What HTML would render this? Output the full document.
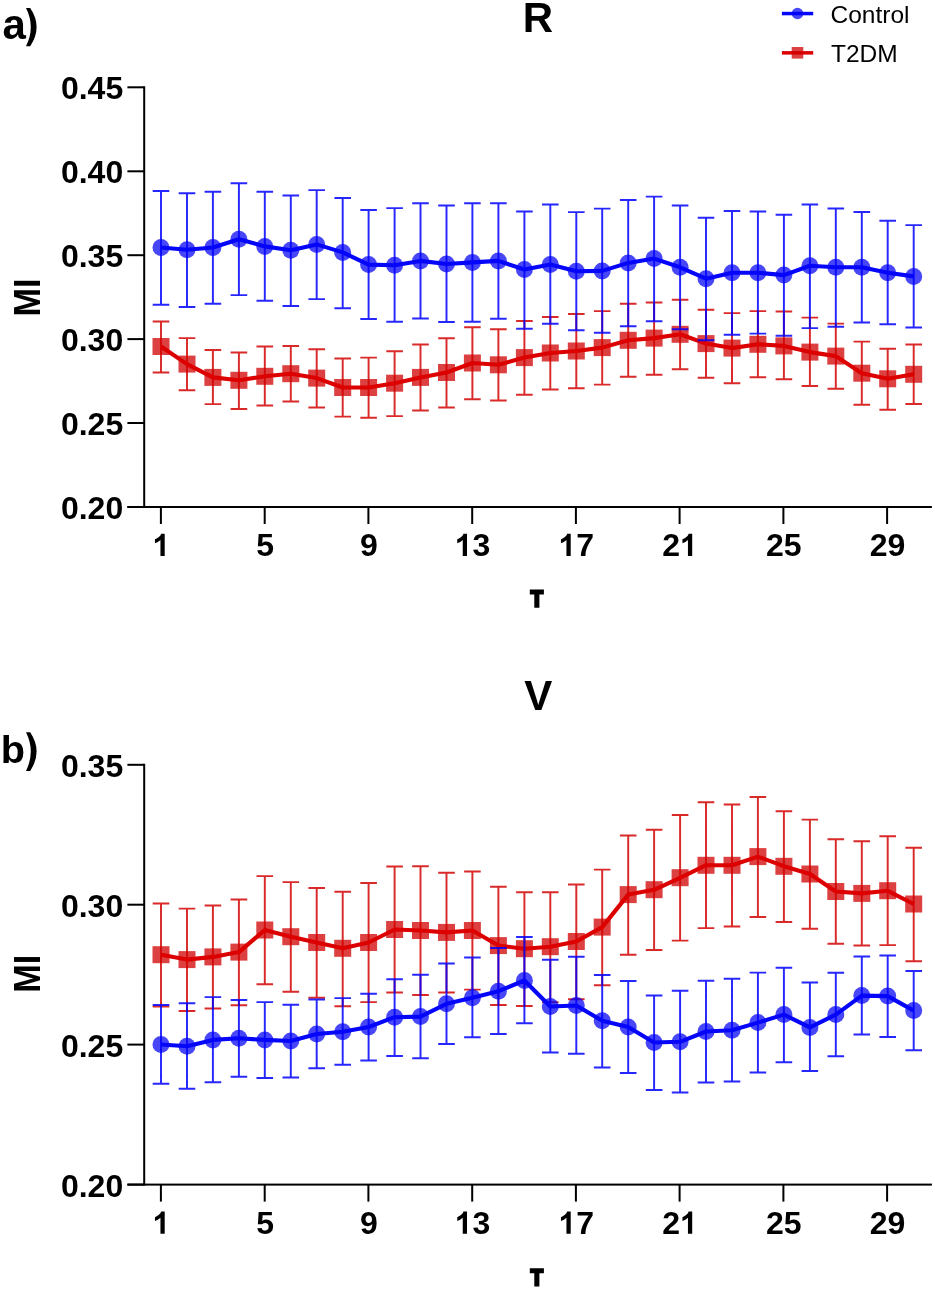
<!DOCTYPE html>
<html><head><meta charset="utf-8"><title>MI vs tau</title>
<style>
html,body{margin:0;padding:0;background:#fff;}
body{width:935px;height:1289px;overflow:hidden;}
svg{display:block;will-change:transform;}
text{font-family:"Liberation Sans",sans-serif;fill:#000;}
.tk{font-size:32px;font-weight:bold;}
.pl{font-size:42px;font-weight:bold;}
.yl{font-size:34.2px;font-weight:bold;}
.lg{font-size:24.5px;}
</style></head><body>
<svg width="935" height="1289" viewBox="0 0 935 1289">
<rect width="935" height="1289" fill="#fff"/>
<g id="top">
<rect x="143.2" y="86.3" width="2" height="421.7" fill="#000"/>
<rect x="127.4" y="506" width="804.5" height="2" fill="#000"/>
<rect x="127.4" y="86.3" width="16.8" height="2" fill="#000"/>
<text x="123.2" y="99.3" text-anchor="end" class="tk">0.45</text>
<rect x="127.4" y="170.3" width="16.8" height="2" fill="#000"/>
<text x="123.2" y="183.3" text-anchor="end" class="tk">0.40</text>
<rect x="127.4" y="254.2" width="16.8" height="2" fill="#000"/>
<text x="123.2" y="267.2" text-anchor="end" class="tk">0.35</text>
<rect x="127.4" y="338.1" width="16.8" height="2" fill="#000"/>
<text x="123.2" y="351.1" text-anchor="end" class="tk">0.30</text>
<rect x="127.4" y="422" width="16.8" height="2" fill="#000"/>
<text x="123.2" y="435" text-anchor="end" class="tk">0.25</text>
<rect x="127.4" y="506" width="16.8" height="2" fill="#000"/>
<text x="123.2" y="519" text-anchor="end" class="tk">0.20</text>
<rect x="159.9" y="507" width="2" height="17" fill="#000"/>
<path transform="translate(152.5 556) scale(0.015137 -0.015137)" d="M806 0H525V1059Q371 915 162 846V1101Q272 1137 401 1237.5T578 1472H806Z" fill="#000"/>
<rect x="263.7" y="507" width="2" height="17" fill="#000"/>
<text x="256.2" y="556" class="tk">5</text>
<rect x="367.4" y="507" width="2" height="17" fill="#000"/>
<text x="359.9" y="556" class="tk">9</text>
<rect x="471.2" y="507" width="2" height="17" fill="#000"/>
<path transform="translate(454.8 556) scale(0.015137 -0.015137)" d="M806 0H525V1059Q371 915 162 846V1101Q272 1137 401 1237.5T578 1472H806Z" fill="#000"/><text x="472.6" y="556" class="tk">3</text>
<rect x="574.9" y="507" width="2" height="17" fill="#000"/>
<path transform="translate(558.5 556) scale(0.015137 -0.015137)" d="M806 0H525V1059Q371 915 162 846V1101Q272 1137 401 1237.5T578 1472H806Z" fill="#000"/><text x="576.3" y="556" class="tk">7</text>
<rect x="678.6" y="507" width="2" height="17" fill="#000"/>
<text x="662.2" y="556" class="tk">2</text><path transform="translate(680 556) scale(0.015137 -0.015137)" d="M806 0H525V1059Q371 915 162 846V1101Q272 1137 401 1237.5T578 1472H806Z" fill="#000"/>
<rect x="782.4" y="507" width="2" height="17" fill="#000"/>
<text x="766" y="556" class="tk">2</text><text x="783.8" y="556" class="tk">5</text>
<rect x="886.1" y="507" width="2" height="17" fill="#000"/>
<text x="869.7" y="556" class="tk">2</text><text x="887.5" y="556" class="tk">9</text>
<path d="M529.8 589.5 h14.1 v5.1 h-4.5 v13.2 h-5.1 v-13.2 h-4.5z" fill="#000"/>
<rect x="152.5" y="338" width="17" height="17" fill="rgba(208,0,0,0.75)"/>
<rect x="178.5" y="355.6" width="17" height="17" fill="rgba(208,0,0,0.75)"/>
<rect x="204.4" y="368.9" width="17" height="17" fill="rgba(208,0,0,0.75)"/>
<rect x="230.4" y="371.8" width="17" height="17" fill="rgba(208,0,0,0.75)"/>
<rect x="256.3" y="367.8" width="17" height="17" fill="rgba(208,0,0,0.75)"/>
<rect x="282.3" y="365.2" width="17" height="17" fill="rgba(208,0,0,0.75)"/>
<rect x="308.2" y="369.6" width="17" height="17" fill="rgba(208,0,0,0.75)"/>
<rect x="334.2" y="379" width="17" height="17" fill="rgba(208,0,0,0.75)"/>
<rect x="360.1" y="379" width="17" height="17" fill="rgba(208,0,0,0.75)"/>
<rect x="386.1" y="374.7" width="17" height="17" fill="rgba(208,0,0,0.75)"/>
<rect x="412" y="368.9" width="17" height="17" fill="rgba(208,0,0,0.75)"/>
<rect x="438" y="364" width="17" height="17" fill="rgba(208,0,0,0.75)"/>
<rect x="463.9" y="354.5" width="17" height="17" fill="rgba(208,0,0,0.75)"/>
<rect x="489.9" y="356.3" width="17" height="17" fill="rgba(208,0,0,0.75)"/>
<rect x="515.9" y="349.1" width="17" height="17" fill="rgba(208,0,0,0.75)"/>
<rect x="541.8" y="344.5" width="17" height="17" fill="rgba(208,0,0,0.75)"/>
<rect x="567.8" y="342.5" width="17" height="17" fill="rgba(208,0,0,0.75)"/>
<rect x="593.7" y="339.1" width="17" height="17" fill="rgba(208,0,0,0.75)"/>
<rect x="619.7" y="331.8" width="17" height="17" fill="rgba(208,0,0,0.75)"/>
<rect x="645.6" y="329.6" width="17" height="17" fill="rgba(208,0,0,0.75)"/>
<rect x="671.6" y="325.8" width="17" height="17" fill="rgba(208,0,0,0.75)"/>
<rect x="697.5" y="335.1" width="17" height="17" fill="rgba(208,0,0,0.75)"/>
<rect x="723.5" y="339.6" width="17" height="17" fill="rgba(208,0,0,0.75)"/>
<rect x="749.4" y="335.8" width="17" height="17" fill="rgba(208,0,0,0.75)"/>
<rect x="775.4" y="337.4" width="17" height="17" fill="rgba(208,0,0,0.75)"/>
<rect x="801.4" y="343.6" width="17" height="17" fill="rgba(208,0,0,0.75)"/>
<rect x="827.3" y="347.6" width="17" height="17" fill="rgba(208,0,0,0.75)"/>
<rect x="853.3" y="364.7" width="17" height="17" fill="rgba(208,0,0,0.75)"/>
<rect x="879.2" y="370.3" width="17" height="17" fill="rgba(208,0,0,0.75)"/>
<rect x="905.2" y="365.8" width="17" height="17" fill="rgba(208,0,0,0.75)"/>
<path d="M161 321.4V372.5M152.7 321.4H169.3M152.7 372.5H169.3M187 338.1V390.3M178.7 338.1H195.3M178.7 390.3H195.3M212.9 349.9V404.1M204.6 349.9H221.2M204.6 404.1H221.2M238.9 352.5V409M230.6 352.5H247.2M230.6 409H247.2M264.8 346.5V405.5M256.5 346.5H273.1M256.5 405.5H273.1M290.8 345.9V401.5M282.5 345.9H299.1M282.5 401.5H299.1M316.7 349.2V407.5M308.4 349.2H325M308.4 407.5H325M342.7 358.5V416.6M334.4 358.5H351M334.4 416.6H351M368.6 357.6V417.7M360.3 357.6H376.9M360.3 417.7H376.9M394.6 351.2V416.1M386.3 351.2H402.9M386.3 416.1H402.9M420.5 344.5V410.4M412.2 344.5H428.8M412.2 410.4H428.8M446.5 338.3V407.5M438.2 338.3H454.8M438.2 407.5H454.8M472.4 327.2V399.2M464.1 327.2H480.7M464.1 399.2H480.7M498.4 329.2V400.4M490.1 329.2H506.7M490.1 400.4H506.7M524.4 320.9V394.8M516.1 320.9H532.7M516.1 394.8H532.7M550.3 316.9V389.5M542 316.9H558.6M542 389.5H558.6M576.3 314V388.3M568 314H584.6M568 388.3H584.6M602.2 311.1V384.6M593.9 311.1H610.5M593.9 384.6H610.5M628.2 303.8V376.8M619.9 303.8H636.5M619.9 376.8H636.5M654.1 302.5V374.8M645.8 302.5H662.4M645.8 374.8H662.4M680.1 299.8V369.2M671.8 299.8H688.4M671.8 369.2H688.4M706 309.8V377.7M697.7 309.8H714.3M697.7 377.7H714.3M732 313.1V383.2M723.7 313.1H740.3M723.7 383.2H740.3M757.9 311.1V377.2M749.6 311.1H766.2M749.6 377.2H766.2M783.9 311.4V379.2M775.6 311.4H792.2M775.6 379.2H792.2M809.9 317.6V385.9M801.6 317.6H818.1M801.6 385.9H818.1M835.8 323.6V388.8M827.5 323.6H844.1M827.5 388.8H844.1M861.8 341.6V404.8M853.5 341.6H870.1M853.5 404.8H870.1M887.7 348.7V409.7M879.4 348.7H896M879.4 409.7H896M913.7 344.5V403.9M905.4 344.5H922M905.4 403.9H922" fill="none" stroke="rgba(210,0,0,0.84)" stroke-width="1.95"/>
<polyline points="161,346.5 187,364.1 212.9,377.4 238.9,380.3 264.8,376.3 290.8,373.7 316.7,378.1 342.7,387.5 368.6,387.5 394.6,383.2 420.5,377.4 446.5,372.5 472.4,363 498.4,364.8 524.4,357.6 550.3,353 576.3,351 602.2,347.6 628.2,340.3 654.1,338.1 680.1,334.3 706,343.6 732,348.1 757.9,344.3 783.9,345.9 809.9,352.1 835.8,356.1 861.8,373.2 887.7,378.8 913.7,374.3" fill="none" stroke="#dc0000" stroke-width="4.1" stroke-linejoin="round"/>
<circle cx="161" cy="247.5" r="8.5" fill="rgba(0,0,245,0.72)"/>
<circle cx="187" cy="249.7" r="8.5" fill="rgba(0,0,245,0.72)"/>
<circle cx="212.9" cy="247.5" r="8.5" fill="rgba(0,0,245,0.72)"/>
<circle cx="238.9" cy="239.3" r="8.5" fill="rgba(0,0,245,0.72)"/>
<circle cx="264.8" cy="246.4" r="8.5" fill="rgba(0,0,245,0.72)"/>
<circle cx="290.8" cy="250.2" r="8.5" fill="rgba(0,0,245,0.72)"/>
<circle cx="316.7" cy="244.4" r="8.5" fill="rgba(0,0,245,0.72)"/>
<circle cx="342.7" cy="252.4" r="8.5" fill="rgba(0,0,245,0.72)"/>
<circle cx="368.6" cy="264.6" r="8.5" fill="rgba(0,0,245,0.72)"/>
<circle cx="394.6" cy="265.3" r="8.5" fill="rgba(0,0,245,0.72)"/>
<circle cx="420.5" cy="260.9" r="8.5" fill="rgba(0,0,245,0.72)"/>
<circle cx="446.5" cy="264" r="8.5" fill="rgba(0,0,245,0.72)"/>
<circle cx="472.4" cy="262.4" r="8.5" fill="rgba(0,0,245,0.72)"/>
<circle cx="498.4" cy="260.9" r="8.5" fill="rgba(0,0,245,0.72)"/>
<circle cx="524.4" cy="269.5" r="8.5" fill="rgba(0,0,245,0.72)"/>
<circle cx="550.3" cy="264.6" r="8.5" fill="rgba(0,0,245,0.72)"/>
<circle cx="576.3" cy="271.3" r="8.5" fill="rgba(0,0,245,0.72)"/>
<circle cx="602.2" cy="270.9" r="8.5" fill="rgba(0,0,245,0.72)"/>
<circle cx="628.2" cy="262.9" r="8.5" fill="rgba(0,0,245,0.72)"/>
<circle cx="654.1" cy="258.6" r="8.5" fill="rgba(0,0,245,0.72)"/>
<circle cx="680.1" cy="267.3" r="8.5" fill="rgba(0,0,245,0.72)"/>
<circle cx="706" cy="278.7" r="8.5" fill="rgba(0,0,245,0.72)"/>
<circle cx="732" cy="272.7" r="8.5" fill="rgba(0,0,245,0.72)"/>
<circle cx="757.9" cy="272.7" r="8.5" fill="rgba(0,0,245,0.72)"/>
<circle cx="783.9" cy="275.1" r="8.5" fill="rgba(0,0,245,0.72)"/>
<circle cx="809.9" cy="265.8" r="8.5" fill="rgba(0,0,245,0.72)"/>
<circle cx="835.8" cy="267.3" r="8.5" fill="rgba(0,0,245,0.72)"/>
<circle cx="861.8" cy="267.3" r="8.5" fill="rgba(0,0,245,0.72)"/>
<circle cx="887.7" cy="272.7" r="8.5" fill="rgba(0,0,245,0.72)"/>
<circle cx="913.7" cy="276.4" r="8.5" fill="rgba(0,0,245,0.72)"/>
<path d="M161 191V304.7M152.7 191H169.3M152.7 304.7H169.3M187 193.2V306.9M178.7 193.2H195.3M178.7 306.9H195.3M212.9 191.7V303.8M204.6 191.7H221.2M204.6 303.8H221.2M238.9 183.2V295.1M230.6 183.2H247.2M230.6 295.1H247.2M264.8 191.7V300.7M256.5 191.7H273.1M256.5 300.7H273.1M290.8 195.5V306M282.5 195.5H299.1M282.5 306H299.1M316.7 190.1V299.1M308.4 190.1H325M308.4 299.1H325M342.7 197.9V308.3M334.4 197.9H351M334.4 308.3H351M368.6 209.9V318.9M360.3 209.9H376.9M360.3 318.9H376.9M394.6 208.1V321.8M386.3 208.1H402.9M386.3 321.8H402.9M420.5 203.2V318.5M412.2 203.2H428.8M412.2 318.5H428.8M446.5 205.5V322M438.2 205.5H454.8M438.2 322H454.8M472.4 203.2V321.8M464.1 203.2H480.7M464.1 321.8H480.7M498.4 203.2V318.7M490.1 203.2H506.7M490.1 318.7H506.7M524.4 211.5V328.7M516.1 211.5H532.7M516.1 328.7H532.7M550.3 204.4V323.8M542 204.4H558.6M542 323.8H558.6M576.3 212.1V330.3M568 212.1H584.6M568 330.3H584.6M602.2 208.6V332.7M593.9 208.6H610.5M593.9 332.7H610.5M628.2 199.9V326.3M619.9 199.9H636.5M619.9 326.3H636.5M654.1 196.6V321.2M645.8 196.6H662.4M645.8 321.2H662.4M680.1 205.5V329.2M671.8 205.5H688.4M671.8 329.2H688.4M706 217.7V340.3M697.7 217.7H714.3M697.7 340.3H714.3M732 211V334.7M723.7 211H740.3M723.7 334.7H740.3M757.9 211.5V333.6M749.6 211.5H766.2M749.6 333.6H766.2M783.9 214.8V335.8M775.6 214.8H792.2M775.6 335.8H792.2M809.9 204.4V328.1M801.6 204.4H818.1M801.6 328.1H818.1M835.8 208.4V326.7M827.5 208.4H844.1M827.5 326.7H844.1M861.8 211.9V322.5M853.5 211.9H870.1M853.5 322.5H870.1M887.7 220.8V324.3M879.4 220.8H896M879.4 324.3H896M913.7 225.1V327.4M905.4 225.1H922M905.4 327.4H922" fill="none" stroke="rgba(0,0,255,0.85)" stroke-width="1.95"/>
<polyline points="161,247.5 187,249.7 212.9,247.5 238.9,239.3 264.8,246.4 290.8,250.2 316.7,244.4 342.7,252.4 368.6,264.6 394.6,265.3 420.5,260.9 446.5,264 472.4,262.4 498.4,260.9 524.4,269.5 550.3,264.6 576.3,271.3 602.2,270.9 628.2,262.9 654.1,258.6 680.1,267.3 706,278.7 732,272.7 757.9,272.7 783.9,275.1 809.9,265.8 835.8,267.3 861.8,267.3 887.7,272.7 913.7,276.4" fill="none" stroke="#0505fa" stroke-width="4.1" stroke-linejoin="round"/>
</g>
<g id="bot">
<rect x="143.2" y="763.8" width="2" height="421.8" fill="#000"/>
<rect x="127.4" y="1183.6" width="804.5" height="2" fill="#000"/>
<rect x="127.4" y="763.8" width="16.8" height="2" fill="#000"/>
<text x="123.2" y="776.8" text-anchor="end" class="tk">0.35</text>
<rect x="127.4" y="903.7" width="16.8" height="2" fill="#000"/>
<text x="123.2" y="916.7" text-anchor="end" class="tk">0.30</text>
<rect x="127.4" y="1043.6" width="16.8" height="2" fill="#000"/>
<text x="123.2" y="1056.6" text-anchor="end" class="tk">0.25</text>
<rect x="127.4" y="1183.6" width="16.8" height="2" fill="#000"/>
<text x="123.2" y="1196.6" text-anchor="end" class="tk">0.20</text>
<rect x="159.9" y="1184.6" width="2" height="17" fill="#000"/>
<path transform="translate(152.5 1233.8) scale(0.015137 -0.015137)" d="M806 0H525V1059Q371 915 162 846V1101Q272 1137 401 1237.5T578 1472H806Z" fill="#000"/>
<rect x="263.7" y="1184.6" width="2" height="17" fill="#000"/>
<text x="256.2" y="1233.8" class="tk">5</text>
<rect x="367.4" y="1184.6" width="2" height="17" fill="#000"/>
<text x="359.9" y="1233.8" class="tk">9</text>
<rect x="471.2" y="1184.6" width="2" height="17" fill="#000"/>
<path transform="translate(454.8 1233.8) scale(0.015137 -0.015137)" d="M806 0H525V1059Q371 915 162 846V1101Q272 1137 401 1237.5T578 1472H806Z" fill="#000"/><text x="472.6" y="1233.8" class="tk">3</text>
<rect x="574.9" y="1184.6" width="2" height="17" fill="#000"/>
<path transform="translate(558.5 1233.8) scale(0.015137 -0.015137)" d="M806 0H525V1059Q371 915 162 846V1101Q272 1137 401 1237.5T578 1472H806Z" fill="#000"/><text x="576.3" y="1233.8" class="tk">7</text>
<rect x="678.6" y="1184.6" width="2" height="17" fill="#000"/>
<text x="662.2" y="1233.8" class="tk">2</text><path transform="translate(680 1233.8) scale(0.015137 -0.015137)" d="M806 0H525V1059Q371 915 162 846V1101Q272 1137 401 1237.5T578 1472H806Z" fill="#000"/>
<rect x="782.4" y="1184.6" width="2" height="17" fill="#000"/>
<text x="766" y="1233.8" class="tk">2</text><text x="783.8" y="1233.8" class="tk">5</text>
<rect x="886.1" y="1184.6" width="2" height="17" fill="#000"/>
<text x="869.7" y="1233.8" class="tk">2</text><text x="887.5" y="1233.8" class="tk">9</text>
<path d="M529.8 1268.2 h14.1 v5.1 h-4.5 v13.2 h-5.1 v-13.2 h-4.5z" fill="#000"/>
<rect x="152.5" y="946.2" width="17" height="17" fill="rgba(208,0,0,0.75)"/>
<rect x="178.5" y="951.1" width="17" height="17" fill="rgba(208,0,0,0.75)"/>
<rect x="204.4" y="948.4" width="17" height="17" fill="rgba(208,0,0,0.75)"/>
<rect x="230.4" y="943.6" width="17" height="17" fill="rgba(208,0,0,0.75)"/>
<rect x="256.3" y="921.5" width="17" height="17" fill="rgba(208,0,0,0.75)"/>
<rect x="282.3" y="928.2" width="17" height="17" fill="rgba(208,0,0,0.75)"/>
<rect x="308.2" y="934" width="17" height="17" fill="rgba(208,0,0,0.75)"/>
<rect x="334.2" y="939.8" width="17" height="17" fill="rgba(208,0,0,0.75)"/>
<rect x="360.1" y="934" width="17" height="17" fill="rgba(208,0,0,0.75)"/>
<rect x="386.1" y="921" width="17" height="17" fill="rgba(208,0,0,0.75)"/>
<rect x="412" y="922" width="17" height="17" fill="rgba(208,0,0,0.75)"/>
<rect x="438" y="923.9" width="17" height="17" fill="rgba(208,0,0,0.75)"/>
<rect x="463.9" y="922" width="17" height="17" fill="rgba(208,0,0,0.75)"/>
<rect x="489.9" y="937.1" width="17" height="17" fill="rgba(208,0,0,0.75)"/>
<rect x="515.9" y="940.2" width="17" height="17" fill="rgba(208,0,0,0.75)"/>
<rect x="541.8" y="938.2" width="17" height="17" fill="rgba(208,0,0,0.75)"/>
<rect x="567.8" y="933" width="17" height="17" fill="rgba(208,0,0,0.75)"/>
<rect x="593.7" y="918.6" width="17" height="17" fill="rgba(208,0,0,0.75)"/>
<rect x="619.7" y="886.1" width="17" height="17" fill="rgba(208,0,0,0.75)"/>
<rect x="645.6" y="881.2" width="17" height="17" fill="rgba(208,0,0,0.75)"/>
<rect x="671.6" y="869.2" width="17" height="17" fill="rgba(208,0,0,0.75)"/>
<rect x="697.5" y="856.8" width="17" height="17" fill="rgba(208,0,0,0.75)"/>
<rect x="723.5" y="856.8" width="17" height="17" fill="rgba(208,0,0,0.75)"/>
<rect x="749.4" y="848.1" width="17" height="17" fill="rgba(208,0,0,0.75)"/>
<rect x="775.4" y="857.8" width="17" height="17" fill="rgba(208,0,0,0.75)"/>
<rect x="801.4" y="865.5" width="17" height="17" fill="rgba(208,0,0,0.75)"/>
<rect x="827.3" y="883" width="17" height="17" fill="rgba(208,0,0,0.75)"/>
<rect x="853.3" y="884.9" width="17" height="17" fill="rgba(208,0,0,0.75)"/>
<rect x="879.2" y="882.2" width="17" height="17" fill="rgba(208,0,0,0.75)"/>
<rect x="905.2" y="895.5" width="17" height="17" fill="rgba(208,0,0,0.75)"/>
<path d="M161 903.5V1006.5M152.7 903.5H169.3M152.7 1006.5H169.3M187 908.6V1011M178.7 908.6H195.3M178.7 1011H195.3M212.9 905.5V1008.4M204.6 905.5H221.2M204.6 1008.4H221.2M238.9 899.4V1005.2M230.6 899.4H247.2M230.6 1005.2H247.2M264.8 876.1V984.2M256.5 876.1H273.1M256.5 984.2H273.1M290.8 882.1V991.8M282.5 882.1H299.1M282.5 991.8H299.1M316.7 887.9V997.8M308.4 887.9H325M308.4 997.8H325M342.7 891.8V1006.2M334.4 891.8H351M334.4 1006.2H351M368.6 882.9V1002.1M360.3 882.9H376.9M360.3 1002.1H376.9M394.6 866.5V992.5M386.3 866.5H402.9M386.3 992.5H402.9M420.5 866.2V994.9M412.2 866.2H428.8M412.2 994.9H428.8M446.5 872.8V992.5M438.2 872.8H454.8M438.2 992.5H454.8M472.4 871.5V989.6M464.1 871.5H480.7M464.1 989.6H480.7M498.4 886.7V1005M490.1 886.7H506.7M490.1 1005H506.7M524.4 892.2V1006M516.1 892.2H532.7M516.1 1006H532.7M550.3 892.2V1002.1M542 892.2H558.6M542 1002.1H558.6M576.3 884.5V999.2M568 884.5H584.6M568 999.2H584.6M602.2 869.6V985.2M593.9 869.6H610.5M593.9 985.2H610.5M628.2 835.5V954.8M619.9 835.5H636.5M619.9 954.8H636.5M654.1 829.7V950M645.8 829.7H662.4M645.8 950H662.4M680.1 815V940.6M671.8 815H688.4M671.8 940.6H688.4M706 802.2V928.1M697.7 802.2H714.3M697.7 928.1H714.3M732 804.4V926.4M723.7 804.4H740.3M723.7 926.4H740.3M757.9 797V917M749.6 797H766.2M749.6 917H766.2M783.9 811.2V922M775.6 811.2H792.2M775.6 922H792.2M809.9 819.6V928.8M801.6 819.6H818.1M801.6 928.8H818.1M835.8 839.2V943.7M827.5 839.2H844.1M827.5 943.7H844.1M861.8 841.2V945.4M853.5 841.2H870.1M853.5 945.4H870.1M887.7 836.2V945.1M879.4 836.2H896M879.4 945.1H896M913.7 847.7V961.2M905.4 847.7H922M905.4 961.2H922" fill="none" stroke="rgba(210,0,0,0.84)" stroke-width="1.95"/>
<polyline points="161,954.8 187,959.6 212.9,956.9 238.9,952.1 264.8,930 290.8,936.7 316.7,942.5 342.7,948.2 368.6,942.5 394.6,929.5 420.5,930.5 446.5,932.4 472.4,930.5 498.4,945.6 524.4,948.7 550.3,946.8 576.3,941.5 602.2,927.1 628.2,894.6 654.1,889.8 680.1,877.8 706,865.2 732,865.2 757.9,856.6 783.9,866.2 809.9,874 835.8,891.5 861.8,893.4 887.7,890.8 913.7,904" fill="none" stroke="#dc0000" stroke-width="4.1" stroke-linejoin="round"/>
<circle cx="161" cy="1044.5" r="8.5" fill="rgba(0,0,245,0.72)"/>
<circle cx="187" cy="1046.2" r="8.5" fill="rgba(0,0,245,0.72)"/>
<circle cx="212.9" cy="1039.9" r="8.5" fill="rgba(0,0,245,0.72)"/>
<circle cx="238.9" cy="1038.2" r="8.5" fill="rgba(0,0,245,0.72)"/>
<circle cx="264.8" cy="1039.9" r="8.5" fill="rgba(0,0,245,0.72)"/>
<circle cx="290.8" cy="1041" r="8.5" fill="rgba(0,0,245,0.72)"/>
<circle cx="316.7" cy="1034" r="8.5" fill="rgba(0,0,245,0.72)"/>
<circle cx="342.7" cy="1031.7" r="8.5" fill="rgba(0,0,245,0.72)"/>
<circle cx="368.6" cy="1027" r="8.5" fill="rgba(0,0,245,0.72)"/>
<circle cx="394.6" cy="1017.2" r="8.5" fill="rgba(0,0,245,0.72)"/>
<circle cx="420.5" cy="1016.6" r="8.5" fill="rgba(0,0,245,0.72)"/>
<circle cx="446.5" cy="1003.8" r="8.5" fill="rgba(0,0,245,0.72)"/>
<circle cx="472.4" cy="997.8" r="8.5" fill="rgba(0,0,245,0.72)"/>
<circle cx="498.4" cy="991.2" r="8.5" fill="rgba(0,0,245,0.72)"/>
<circle cx="524.4" cy="980.5" r="8.5" fill="rgba(0,0,245,0.72)"/>
<circle cx="550.3" cy="1006.5" r="8.5" fill="rgba(0,0,245,0.72)"/>
<circle cx="576.3" cy="1005.5" r="8.5" fill="rgba(0,0,245,0.72)"/>
<circle cx="602.2" cy="1020.7" r="8.5" fill="rgba(0,0,245,0.72)"/>
<circle cx="628.2" cy="1026.9" r="8.5" fill="rgba(0,0,245,0.72)"/>
<circle cx="654.1" cy="1042.5" r="8.5" fill="rgba(0,0,245,0.72)"/>
<circle cx="680.1" cy="1041.8" r="8.5" fill="rgba(0,0,245,0.72)"/>
<circle cx="706" cy="1031.5" r="8.5" fill="rgba(0,0,245,0.72)"/>
<circle cx="732" cy="1030.2" r="8.5" fill="rgba(0,0,245,0.72)"/>
<circle cx="757.9" cy="1022.6" r="8.5" fill="rgba(0,0,245,0.72)"/>
<circle cx="783.9" cy="1014.6" r="8.5" fill="rgba(0,0,245,0.72)"/>
<circle cx="809.9" cy="1027.4" r="8.5" fill="rgba(0,0,245,0.72)"/>
<circle cx="835.8" cy="1014.6" r="8.5" fill="rgba(0,0,245,0.72)"/>
<circle cx="861.8" cy="995.6" r="8.5" fill="rgba(0,0,245,0.72)"/>
<circle cx="887.7" cy="996.1" r="8.5" fill="rgba(0,0,245,0.72)"/>
<circle cx="913.7" cy="1010.6" r="8.5" fill="rgba(0,0,245,0.72)"/>
<path d="M161 1005V1083.7M152.7 1005H169.3M152.7 1083.7H169.3M187 1003.2V1088.7M178.7 1003.2H195.3M178.7 1088.7H195.3M212.9 997.1V1082.2M204.6 997.1H221.2M204.6 1082.2H221.2M238.9 1000V1076.7M230.6 1000H247.2M230.6 1076.7H247.2M264.8 1002.1V1078M256.5 1002.1H273.1M256.5 1078H273.1M290.8 1004.8V1077.4M282.5 1004.8H299.1M282.5 1077.4H299.1M316.7 999.5V1068.2M308.4 999.5H325M308.4 1068.2H325M342.7 998.1V1064.7M334.4 998.1H351M334.4 1064.7H351M368.6 993.7V1060.5M360.3 993.7H376.9M360.3 1060.5H376.9M394.6 979.2V1056M386.3 979.2H402.9M386.3 1056H402.9M420.5 974.7V1058.2M412.2 974.7H428.8M412.2 1058.2H428.8M446.5 963.4V1044M438.2 963.4H454.8M438.2 1044H454.8M472.4 957.4V1037.2M464.1 957.4H480.7M464.1 1037.2H480.7M498.4 948V1033.9M490.1 948H506.7M490.1 1033.9H506.7M524.4 937V1023.2M516.1 937H532.7M516.1 1023.2H532.7M550.3 959.8V1052.5M542 959.8H558.6M542 1052.5H558.6M576.3 956.7V1053.8M568 956.7H584.6M568 1053.8H584.6M602.2 975V1067.5M593.9 975H610.5M593.9 1067.5H610.5M628.2 981V1073M619.9 981H636.5M619.9 1073H636.5M654.1 995.4V1089.9M645.8 995.4H662.4M645.8 1089.9H662.4M680.1 990.8V1092.5M671.8 990.8H688.4M671.8 1092.5H688.4M706 980.7V1082.5M697.7 980.7H714.3M697.7 1082.5H714.3M732 978.8V1081.5M723.7 978.8H740.3M723.7 1081.5H740.3M757.9 972.6V1072.5M749.6 972.6H766.2M749.6 1072.5H766.2M783.9 967.7V1062.2M775.6 967.7H792.2M775.6 1062.2H792.2M809.9 982.4V1070.9M801.6 982.4H818.1M801.6 1070.9H818.1M835.8 972.8V1056.2M827.5 972.8H844.1M827.5 1056.2H844.1M861.8 956.4V1034.5M853.5 956.4H870.1M853.5 1034.5H870.1M887.7 955.5V1037M879.4 955.5H896M879.4 1037H896M913.7 970.9V1050.2M905.4 970.9H922M905.4 1050.2H922" fill="none" stroke="rgba(0,0,255,0.85)" stroke-width="1.95"/>
<polyline points="161,1044.5 187,1046.2 212.9,1039.9 238.9,1038.2 264.8,1039.9 290.8,1041 316.7,1034 342.7,1031.7 368.6,1027 394.6,1017.2 420.5,1016.6 446.5,1003.8 472.4,997.8 498.4,991.2 524.4,980.5 550.3,1006.5 576.3,1005.5 602.2,1020.7 628.2,1026.9 654.1,1042.5 680.1,1041.8 706,1031.5 732,1030.2 757.9,1022.6 783.9,1014.6 809.9,1027.4 835.8,1014.6 861.8,995.6 887.7,996.1 913.7,1010.6" fill="none" stroke="#0505fa" stroke-width="4.1" stroke-linejoin="round"/>
</g>
<text x="2.5" y="38.5" class="pl">a</text>
<path d="M26 8h4.2Q43 27.1 30.2 46.2h-4.2Q35.6 27.1 26 8Z" fill="#000"/>
<path d="M26 732.3h4.2Q43 751.6 30.2 770.9h-4.2Q35.6 751.6 26 732.3Z" fill="#000"/>
<text x="0.8" y="762.7" class="pl" style="font-size:39.7px">b</text>
<text x="538.0" y="31.5" text-anchor="middle" class="pl">R</text>
<text x="538.3" y="710.1" text-anchor="middle" class="pl">V</text>
<text transform="translate(40.3 297.5) rotate(-90) scale(1 1.07)" text-anchor="middle" class="yl">MI</text>
<text transform="translate(40.3 973.7) rotate(-90) scale(1 1.07)" text-anchor="middle" class="yl">MI</text>
<rect x="781.9" y="11.8" width="31.3" height="3.5" fill="#0505fa"/>
<circle cx="797.5" cy="13.5" r="5.8" fill="rgba(0,0,245,0.72)"/>
<rect x="781.9" y="51.1" width="31.3" height="3.5" fill="#dc0000"/>
<rect x="791.7" y="47" width="11.6" height="11.6" fill="rgba(208,0,0,0.75)"/>
<text x="830.5" y="22.5" class="lg">Control</text>
<text x="831" y="61.8" class="lg">T2DM</text>
</svg>
</body></html>
